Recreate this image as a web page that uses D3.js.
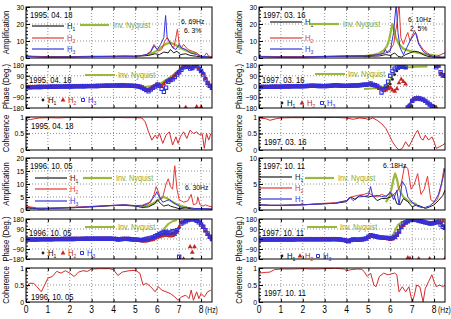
<!DOCTYPE html>
<html>
<head>
<meta charset="utf-8">
<script src="https://cdn.jsdelivr.net/npm/d3@7"></script>
<style>
  body { margin: 0; background: #fff; }
  svg { display: block; }
  text { font-family: "Liberation Sans", Arial, sans-serif; }
</style>
</head>
<body>
<div id="chart"></div>
<script>

// ---------- data (frequency in Hz, value) ----------

// amplification 1995.04.18
var a95H1 = [[0,1.2],[0.3,1],[1,0.8],[2,0.8],[3,1],[4,1],[4.5,1.2],[5,1],[5.3,1.2],[5.6,1.5],[5.9,2.5],[6.1,2],[6.3,3.5],[6.5,3],[6.6,5],[6.75,3],[6.9,4],[7.05,2],[7.3,2.5],[7.5,1.5],[7.8,1],[8.1,0.5],[8.3,0.8],[8.5,0.5]];
var a95H2 = [[0,1],[0.5,0.8],[1,0.6],[2,0.6],[3,0.8],[4,0.9],[5,1],[5.3,1.5],[5.5,2],[5.7,4],[5.85,8],[5.95,6],[6.05,4],[6.2,5],[6.35,10],[6.45,12],[6.6,8],[6.75,6],[6.85,12],[6.92,17],[7.0,8],[7.1,6],[7.2,8],[7.4,5],[7.6,4],[7.8,3],[8.0,1],[8.15,1],[8.25,3],[8.35,1],[8.5,0.8]];
var a95H3 = [[0,1],[0.5,0.6],[1,0.5],[2,0.6],[3,0.8],[4,1],[5,1],[5.3,1.5],[5.5,2],[5.7,3.5],[5.85,7],[6.0,5],[6.15,8],[6.3,12],[6.38,25],[6.45,12],[6.55,10],[6.7,6],[6.85,5],[7.0,8],[7.1,6],[7.3,5],[7.5,3],[7.8,2],[8.0,1],[8.3,0.5],[8.5,0.3]];
var a95Inv = [[5.5,1.8],[5.8,3],[6.0,4.5],[6.2,6.5],[6.4,8.3],[6.6,9],[6.8,8],[7.0,6.3],[7.2,5],[7.4,4],[7.6,3.2],[7.8,2.6]];

// amplification 1996.10.05
var a96H1 = [[0,0.8],[0.3,0.6],[0.8,0.4],[1,0.6],[2,0.8],[3,1.2],[4,1.7],[4.5,1.8],[5,1.5],[5.3,1],[5.6,1.2],[5.9,2.5],[6.0,4],[6.15,2.5],[6.3,1.5],[6.5,2],[6.6,1.5],[6.8,1],[7.0,0.5],[7.3,0.8],[7.6,0.4],[8.0,0.5],[8.5,0.3]];
var a96H2 = [[0,1.5],[0.2,1.2],[0.5,0.8],[1,0.8],[2,1],[3,1.4],[4,1.8],[4.5,2],[5,1.7],[5.3,1.8],[5.5,2.5],[5.7,3],[5.85,6],[5.95,9],[6.05,7],[6.15,4],[6.25,5],[6.4,10],[6.5,12],[6.6,9],[6.7,8],[6.8,17],[6.9,8],[7.0,4],[7.2,3],[7.4,3.5],[7.55,6],[7.65,2],[7.8,2.5],[7.85,5],[7.95,2],[8.1,1.5],[8.2,2],[8.35,1.5],[8.5,1.2]];
var a96H3 = [[0,1],[0.3,0.8],[0.6,0.4],[1,0.6],[2,0.9],[3,1.3],[4,1.8],[4.5,2],[5,1.6],[5.3,1.5],[5.6,2.5],[5.85,5],[5.98,7],[6.1,5],[6.25,3],[6.4,3.5],[6.55,4],[6.7,3],[6.9,2],[7.1,1],[7.4,1],[7.7,0.6],[8.0,0.5],[8.5,0.4]];
var a96Inv = [[5.3,1],[5.6,1.8],[5.8,2.5],[6.0,3.5],[6.15,4.5],[6.3,5],[6.45,4.5],[6.6,3.6],[6.8,2.6],[7.0,1.8],[7.2,1.3],[7.35,1]];

// amplification 1997.03.16
var a97aH1 = [[0,0.8],[1,0.6],[2,0.6],[3,0.8],[4,1],[5,1],[5.5,1.2],[5.8,2],[6.0,1.5],[6.2,3],[6.35,1],[6.5,0.5],[6.7,2],[6.9,3],[7.1,4],[7.3,3.5],[7.5,2],[7.7,1],[8.0,0.5],[8.3,0.4],[8.5,0.5]];
var a97aH2 = [[0,1],[1,0.8],[2,0.8],[3,1],[4,1.3],[5,1.5],[5.5,2],[5.8,3],[6.0,5],[6.15,8],[6.3,20],[6.4,32],[6.48,12],[6.6,8],[6.7,12],[6.8,15],[6.9,10],[7.0,13],[7.1,16],[7.2,14],[7.3,9],[7.5,5],[7.7,3],[7.9,1],[8.1,0.8],[8.3,2],[8.5,3]];
var a97aH3 = [[0,0.8],[1,0.6],[2,0.6],[3,0.9],[4,1.1],[5,1.3],[5.5,2],[5.7,3],[5.78,5],[5.85,3],[6.0,4],[6.15,15],[6.27,32],[6.35,15],[6.45,6],[6.6,2],[6.75,6],[6.9,10],[7.05,13],[7.15,15],[7.3,8],[7.5,4],[7.7,2],[8.0,0.7],[8.3,0.5],[8.5,0.5]];
var a97aInv = [[4.8,1],[5.2,1.8],[5.5,2.8],[5.7,4.5],[5.85,7],[5.95,11],[6.05,17],[6.1,20],[6.15,18],[6.25,12],[6.4,8],[6.6,5.5],[6.8,4.5],[7.0,3.8],[7.3,3],[7.6,2.3],[8.0,1.5],[8.3,1]];

// amplification 1997.10.11
var a97bH1 = [[0,1],[0.5,0.9],[1,0.9],[2,1],[3,1.2],[3.5,1.3],[4,1.6],[4.2,2.5],[4.4,2],[4.6,2.8],[4.8,2.6],[5.0,2.5],[5.2,2.7],[5.4,1.8],[5.6,2.2],[5.8,2.2],[6.0,2.5],[6.15,3],[6.3,1.2],[6.45,1],[6.6,2.2],[6.8,1.6],[7.0,0.6],[7.2,1],[7.4,0.7],[7.6,0.3],[7.8,0.6],[8.0,1],[8.2,1.8],[8.4,2.8],[8.5,3.8]];
var a97bH2 = [[0,1],[0.5,0.9],[1,0.9],[2,1],[3,1.3],[3.5,1.4],[4,1.8],[4.2,2.5],[4.5,2.8],[4.8,3],[5.0,3.3],[5.2,2.8],[5.4,2.5],[5.6,3],[5.8,2.7],[6.0,3.2],[6.15,3],[6.3,3.5],[6.5,5],[6.65,8.5],[6.8,8],[6.95,4],[7.1,5],[7.25,7],[7.4,3],[7.55,4],[7.7,6.5],[7.85,2],[8.0,1.5],[8.15,2],[8.3,4],[8.45,8],[8.5,7.5]];
var a97bH3 = [[0,1],[0.5,0.9],[1,0.9],[2,1],[3,1.2],[3.5,1.3],[3.8,1.6],[4.0,1.8],[4.15,2.5],[4.3,1.8],[4.5,2.5],[4.8,2.6],[5.0,2.8],[5.1,4.5],[5.2,2.6],[5.4,2.8],[5.6,2.6],[5.8,2.5],[6.0,3.5],[6.15,2],[6.3,3.8],[6.4,1],[6.55,5.5],[6.7,4.5],[6.8,2.5],[7.0,1.5],[7.2,0.8],[7.4,0.5],[7.6,0.5],[7.8,0.8],[8.0,1.5],[8.2,3],[8.4,6],[8.5,8]];
var a97bInv = [[5.8,1.5],[5.95,2.5],[6.05,4],[6.15,6],[6.22,7],[6.3,6],[6.4,4],[6.6,2.5],[6.8,1.8],[7.0,1.4],[7.2,1.1]];

// phase, one value every 0.1 Hz
var phFreq = [0,0.1,0.2,0.3,0.4,0.5,0.6,0.7,0.8,0.9,
  1,1.1,1.2,1.3,1.4,1.5,1.6,1.7,1.8,1.9,
  2,2.1,2.2,2.3,2.4,2.5,2.6,2.7,2.8,2.9,
  3,3.1,3.2,3.3,3.4,3.5,3.6,3.7,3.8,3.9,
  4,4.1,4.2,4.3,4.4,4.5,4.6,4.7,4.8,4.9,
  5,5.1,5.2,5.3,5.4,5.5,5.6,5.7,5.8,5.9,
  6,6.1,6.2,6.3,6.4,6.5,6.6,6.7,6.8,6.9,
  7,7.1,7.2,7.3,7.4,7.5,7.6,7.7,7.8,7.9,
  8,8.1,8.2,8.3,8.4,8.5];

var p95H1 = [-5,-5,-5,-5,-4,-4,-4,-3,-3,-3, -2,-2,-2,-1,-1,-1,0,0,0,1, 1,1,1,2,2,2,2,3,3,3, 4,4,4,5,5,5,6,6,7,7, 7,8,8,8,8,8,7,7,6,5,
  3,1,-4,-10,-22,-30,-35,-20,-5,5, 18,10,5,25,45,50,60,70,90,110, 125,145,165,175,170,155,160,170,178,150, 130,105,65,30,8,-8];
var p95H2 = [-4,-5,-5,-5,-4,-4,-3,-3,-3,-2, -2,-2,-1,-1,-1,0,0,0,1,1, 1,1,1,2,2,2,3,3,3,4, 4,4,4,5,5,6,6,7,7,7, 8,8,8,9,9,8,8,7,6,5,
  3,0,-5,-12,-25,-35,-30,-20,-5,5, 20,15,0,20,40,50,60,70,90,110, 130,150,170,-175,175,160,165,175,-170,155, -172,110,70,30,10,-5];
var p95H3 = [-5,-6,-6,-5,-5,-4,-4,-4,-3,-3, -3,-2,-2,-2,-2,-1,-1,-1,0,0, 0,0,1,1,1,2,2,2,3,3, 3,3,4,4,5,5,6,6,6,7, 7,7,8,8,8,8,7,7,6,5,
  4,2,-2,-8,-20,-30,-40,-25,-10,0, 15,5,-20,-45,-10,40,55,60,80,100, 120,140,160,170,165,150,155,170,175,150, 130,100,60,30,5,-10];
var p95Inv = [[5.4,-5],[5.8,5],[6.1,20],[6.4,55],[6.69,90],[6.9,125],[7.2,155],[7.5,165],[7.8,170]];

var p96H1 = [-4,-4,-5,-5,-5,-4,-4,-3,-3,-3, -2,-2,-2,-2,-1,-1,-1,-1,0,0, 0,0,0,0,1,1,1,1,1,2, 2,2,2,2,3,3,2,2,2,1, 1,0,-5,-4,-1,0,0,-1,-2,-5,
  -6,-8,-12,-15,-12,-8,-5,0,5,15, 25,35,40,45,50,45,45,50,55,75, 100,145,155,165,175,178,-178,175,168,155, 135,110,75,45,20,2];
var p96H2 = [-4,-5,-5,-5,-5,-4,-4,-4,-3,-3, -3,-3,-2,-2,-2,-2,-1,-1,-1,-1, -1,0,0,0,0,1,1,1,1,1, 1,2,2,2,2,2,2,1,1,1, 0,-1,-6,-4,-1,0,0,-1,-3,-6,
  -8,-10,-15,-20,-20,-18,-15,-10,-5,5, 15,20,25,30,35,30,25,30,40,60, 110,150,-180,170,180,-70,-120,-70,170,160, 140,110,70,40,20,5];
var p96H3 = [-3,-4,-5,-5,-4,-4,-3,-3,-3,-2, -2,-2,-2,-1,-1,-1,-1,0,0,0, 0,0,0,1,1,1,1,2,2,2, 2,2,2,3,3,3,3,2,2,2, 1,0,-5,-3,0,1,1,0,-2,-4,
  -5,-6,-8,-10,-5,0,5,10,15,25, 35,45,55,60,65,55,60,70,60,80, -160,140,150,160,170,175,180,175,165,150, 130,110,80,50,20,0];
var p96Inv = [[5.3,-10],[5.6,0],[5.9,20],[6.1,45],[6.3,90],[6.5,135],[6.7,160],[6.9,170]];

var p97aH1 = [-4,-4,-4,-3,-3,-3,-3,-2,-2,-2, -1,-1,-1,0,0,0,1,1,1,2, 2,2,3,4,5,5,5,4,4,3, 3,3,4,5,7,9,8,7,6,5, 5,5,6,7,8,8,9,11,13,14,
  15,20,12,6,-2,-10,-15,-15,-10,0, 20,60,100,130,150,160,160,155,-178,-165, -125,-105,-100,-100,-105,-110,-120,-135,-150,-165, -175,165,175,115,90,88];
var p97aH2 = [-5,-5,-4,-4,-4,-3,-3,-3,-2,-2, -2,-1,-1,-1,0,0,0,1,1,1, 2,2,3,4,5,5,4,4,3,3, 3,3,4,5,7,9,8,6,5,5, 4,5,6,7,7,8,9,11,13,14,
  15,20,12,5,-5,-15,-20,-25,-30,-20, -10,-30,-40,-20,30,60,40,20,-170,-150, -115,-100,-95,-95,-100,-110,-125,-140,-150,-160, -170,-175,170,100,85,85];
var p97aH3 = [-4,-4,-3,-3,-3,-3,-2,-2,-2,-1, -1,-1,0,0,0,1,1,1,2,2, 2,3,4,5,6,6,5,4,4,3, 3,4,5,6,8,10,9,7,6,5, 5,6,7,8,8,9,10,12,14,15,
  18,25,15,10,5,-10,-50,-30,0,40, 90,130,150,160,165,170,165,160,-175,-160, -120,-105,-100,-100,-105,-110,-120,-135,-150,-165, -175,160,175,120,95,90];
var p97aInv = [[4.8,-20],[5.3,-15],[5.6,-10],[5.8,5],[5.95,30],[6.1,90],[6.25,140],[6.4,155],[6.7,160],[7.2,165],[7.7,168]];

var p97bH1 = [-6,-6,-6,-5,-5,-5,-4,-4,-4,-4, -4,-4,-4,-4,-4,-4,-3,-3,-3,-3, -3,-3,-3,-3,-3,-3,-3,-3,-2,-2, -2,-2,-2,-2,-2,-2,-3,-5,-8,-10, -14,-19,-10,-5,-5,-8,-5,-5,-1,4,
  18,32,28,22,18,12,10,8,6,5, 0,5,15,35,65,105,130,145,155,165, 170,172,168,163,158,152,148,143,140,140, 142,148,152,140,120,110];
var p97bH2 = [-7,-6,-6,-6,-5,-5,-5,-5,-4,-4, -4,-4,-4,-4,-4,-4,-4,-4,-3,-3, -3,-3,-3,-3,-3,-3,-3,-3,-2,-2, -2,-2,-2,-2,-2,-3,-4,-6,-8,-10, -14,-18,-10,-6,-6,-8,-6,-5,-2,3,
  15,30,25,20,15,10,8,5,3,0, -5,0,10,30,60,100,120,140,-170,-175, 175,170,165,-178,160,150,145,140,-178,140, 140,145,150,155,160,-178];
var p97bH3 = [-6,-6,-5,-5,-5,-4,-4,-4,-4,-4, -4,-4,-4,-4,-4,-4,-4,-3,-3,-3, -3,-3,-3,-3,-3,-3,-3,-3,-3,-2, -2,-2,-2,-2,-1,-2,-3,-5,-8,-10, -15,-20,-10,-5,-5,-8,-5,-5,0,5,
  20,35,30,25,20,15,15,12,10,10, 5,10,20,40,70,110,140,150,160,170, 175,178,170,165,160,155,150,145,140,140, 145,150,155,130,110,100];
var p97bInv = [[5.9,0],[6.05,15],[6.15,45],[6.25,90],[6.35,125],[6.5,150],[6.7,165]];

// coherence
var c95 = [[0,0.95],[0.2,0.92],[0.4,0.95],[0.6,0.97],[1,0.98],[1.5,0.97],[2,0.99],[2.5,0.98],[3,0.99],[3.5,0.98],[4,0.99],[4.5,0.98],[5,0.98],[5.3,0.97],[5.45,0.85],[5.6,0.55],[5.75,0.3],[5.9,0.45],[6.0,0.35],[6.1,0.5],[6.25,0.2],[6.4,0.45],[6.55,0.55],[6.7,0.15],[6.85,0.4],[6.95,0.2],[7.05,0.4],[7.2,0.55],[7.35,0.35],[7.5,0.6],[7.65,0.5],[7.8,0.55],[7.95,0.45],[8.05,0.5],[8.15,0.05],[8.25,0.5],[8.35,0.3],[8.45,0.5]];
var c96 = [[0,0.4],[0.15,0.55],[0.35,0.55],[0.5,0.45],[0.7,0.3],[0.85,0.5],[1.0,0.7],[1.2,0.75],[1.4,0.9],[1.6,0.85],[1.8,0.92],[2.0,0.85],[2.2,0.75],[2.4,0.88],[2.6,0.92],[2.8,0.9],[3.0,0.97],[3.4,0.98],[3.8,0.98],[4.0,0.95],[4.2,0.78],[4.4,0.88],[4.7,0.92],[5.0,0.93],[5.2,0.85],[5.35,0.5],[5.5,0.55],[5.7,0.45],[5.9,0.3],[6.05,0.45],[6.2,0.35],[6.4,0.3],[6.6,0.25],[6.8,0.15],[6.95,0.05],[7.1,0.15],[7.3,0.2],[7.45,0.1],[7.55,0.35],[7.65,0.05],[7.8,0.3],[7.9,0.1],[8.0,0.25],[8.15,0.15],[8.3,0.3],[8.45,0.35]];
var c97a = [[0,0.97],[0.3,0.95],[0.5,0.9],[0.8,0.95],[1,0.97],[1.5,0.98],[2,0.98],[2.5,0.99],[3,0.98],[3.5,0.99],[4,0.97],[4.3,0.93],[4.6,0.97],[4.9,0.95],[5.0,0.92],[5.2,0.97],[5.4,0.9],[5.6,0.8],[5.8,0.65],[5.95,0.45],[6.1,0.25],[6.25,0.1],[6.4,0.0],[6.55,0.05],[6.7,0.25],[6.85,0.1],[7.0,0.3],[7.15,0.5],[7.25,0.6],[7.4,0.35],[7.5,0.3],[7.6,0.45],[7.75,0.3],[7.9,0.4],[8.0,0.25],[8.1,0.05],[8.25,0.1],[8.4,0.15],[8.5,0.2]];
var c97b = [[0,0.85],[0.3,0.87],[0.5,0.88],[0.7,0.95],[1,0.97],[1.5,0.97],[2,0.98],[2.5,0.97],[3,0.98],[3.5,0.99],[3.9,0.97],[4.0,0.92],[4.2,0.95],[4.5,0.97],[4.7,0.96],[4.8,0.9],[4.95,0.75],[5.1,0.85],[5.25,0.5],[5.35,0.45],[5.5,0.75],[5.7,0.85],[5.9,0.8],[6.0,0.82],[6.2,0.85],[6.3,0.8],[6.4,0.3],[6.55,0.45],[6.7,0.3],[6.85,0.45],[7.0,0.0],[7.1,0.2],[7.2,0.5],[7.35,0.45],[7.5,0.0],[7.6,0.4],[7.75,0.6],[7.9,0.8],[8.0,0.6],[8.1,0.45],[8.25,0.5],[8.4,0.45],[8.5,0.5]];

var hzTicks = [0,1,2,3,4,5,6,7,8];

// ---------- layout ----------

var W = 451, H = 319;
var colX = [26, 259], plotW = 186;
var rows = { amp1: [7, 58], ph1: [65, 108], coh1: [117, 150], amp2: [158, 210], ph2: [219, 259], coh2: [268, 302] };

var cH1 = '#1a1a1a', cH2 = '#e23a36', cH3 = '#3434d8', cInv = '#9ab83a', cInvText = '#8aa836';
var pH1 = '#222', pH2 = '#c42424', pH3 = '#3030e0';

var svg = d3.select('#chart').append('svg').attr('width', W).attr('height', H);

function label(g, x, y, txt, size, fill, anchor, sx) {
	return g.append('text')
		.attr('transform', 'translate(' + x + ',' + y + ') scale(' + (sx || 0.85) + ',1)')
		.attr('text-anchor', anchor || 'start')
		.style('font-size', size + 'px')
		.style('fill', fill || '#000')
		.text(txt);
};

function hLabel(g, x, y, n, fill) {
	var t = label(g, x, y, 'H', 9, fill);
	t.append('tspan').attr('dy', 2).style('font-size', '6px').text(n);
};

function makePanel(col, row, yDom, major, minorStep, grid, fmt, title) {
	var x0 = colX[col], top = rows[row][0], bot = rows[row][1];
	var x = d3.scaleLinear().domain([0, 8.5]).range([x0, x0 + plotW]);
	var y = d3.scaleLinear().domain(yDom).range([bot, top]);
	var cid = 'clip' + col + row;

	svg.append('clipPath').attr('id', cid).append('rect')
		.attr('x', x0).attr('y', top).attr('width', plotW).attr('height', bot - top);

	var gridG = svg.append('g');
	var plot = svg.append('g').attr('clip-path', 'url(#' + cid + ')');
	var axisG = svg.append('g');
	var front = svg.append('g');

	gridG.selectAll('line.vg').data(hzTicks.slice(1)).join('line')
		.attr('x1', function(d) { return x(d); }).attr('x2', function(d) { return x(d); })
		.attr('y1', top).attr('y2', bot)
		.style('stroke', '#777').style('stroke-width', 0.8).style('stroke-dasharray', '1,2');
	gridG.selectAll('line.hg').data(grid).join('line')
		.attr('x1', x0).attr('x2', x0 + plotW)
		.attr('y1', function(d) { return y(d); }).attr('y2', function(d) { return y(d); })
		.style('stroke', '#777').style('stroke-width', 0.8).style('stroke-dasharray', '1,2');

	// left axis, major and minor ticks pointing inward
	var minor = d3.range(yDom[0], yDom[1] + minorStep / 2, minorStep);
	axisG.append('g').attr('transform', 'translate(' + x0 + ',0)')
		.call(d3.axisLeft(y).tickValues(minor).tickSize(-2).tickSizeOuter(0).tickFormat(''))
		.call(function(a) { a.select('.domain').remove(); });
	var ya = axisG.append('g').attr('transform', 'translate(' + x0 + ',0)')
		.call(d3.axisLeft(y).tickValues(major).tickSize(-4).tickSizeOuter(0).tickPadding(2).tickFormat(fmt))
		.call(function(a) { a.select('.domain').remove(); });
	ya.selectAll('text').style('font-size', '7.5px').style('font-family', '"Liberation Sans", Arial, sans-serif')
		.attr('transform', 'scale(0.92,1)');
	ya.selectAll('line').style('stroke', '#000');

	// top / bottom Hz ticks
	axisG.append('g').attr('transform', 'translate(0,' + bot + ')')
		.call(d3.axisBottom(x).tickValues(hzTicks).tickSize(-3).tickSizeOuter(0).tickFormat(''))
		.call(function(a) { a.select('.domain').remove(); });
	axisG.append('g').attr('transform', 'translate(0,' + top + ')')
		.call(d3.axisTop(x).tickValues(hzTicks).tickSize(-3).tickSizeOuter(0).tickFormat(''))
		.call(function(a) { a.select('.domain').remove(); });

	axisG.append('rect').attr('x', x0).attr('y', top).attr('width', plotW).attr('height', bot - top)
		.style('fill', 'none').style('stroke', '#000').style('stroke-width', 1);

	// rotated axis title
	svg.append('text')
		.attr('transform', 'translate(' + (x0 - 17) + ',' + ((top + bot) / 2) + ') rotate(-90) scale(0.85,1)')
		.attr('text-anchor', 'middle')
		.style('font-size', '9px')
		.text(title);

	return { x: x, y: y, plot: plot, front: front, x0: x0, top: top, bot: bot };
};

function drawLine(p, data, color, width) {
	var line = d3.line().x(function(d) { return p.x(d[0]); }).y(function(d) { return p.y(d[1]); });
	p.plot.append('path').datum(data).attr('d', line)
		.style('fill', 'none').style('stroke', color).style('stroke-width', width)
		.style('stroke-linejoin', 'round');
};

function drawMarks(p, vals, kind) {
	var pts = vals.map(function(v, i) { return [phFreq[i], v]; });
	var sel = p.plot.append('g').selectAll('path').data(pts).join('path')
		.attr('transform', function(d) { return 'translate(' + p.x(d[0]) + ',' + p.y(d[1]) + ')'; });
	if (kind == 1) {
		sel.attr('d', d3.symbol(d3.symbolCircle, 6)).style('fill', pH1);
	} else if (kind == 2) {
		sel.attr('d', d3.symbol(d3.symbolTriangle, 10)).style('fill', pH2);
	} else {
		sel.attr('d', d3.symbol(d3.symbolSquare, 11)).style('fill', 'none').style('stroke', pH3).style('stroke-width', 1.1);
	}
};

function ampPanel(col, row, ymax, major, minorStep, grid, s, leg, date, notes) {
	var p = makePanel(col, row, [0, ymax], major, minorStep, grid, function(d) { return d; }, 'Amplification');
	drawLine(p, s.inv, cInv, 2.2);
	drawLine(p, s.h1, cH1, 1);
	drawLine(p, s.h2, cH2, 1);
	drawLine(p, s.h3, cH3, 1);

	var f = p.front, lx = p.x0 + leg.dx;
	[[cH1, '1'], [cH2, '2'], [cH3, '3']].forEach(function(e, i) {
		f.append('line').attr('x1', lx).attr('x2', lx + 32).attr('y1', leg.ys[i]).attr('y2', leg.ys[i])
			.style('stroke', e[0]).style('stroke-width', 1.2);
		hLabel(f, lx + 35, leg.ys[i] + 3, e[1], e[0]);
	});
	f.append('line').attr('x1', p.x0 + leg.invDx).attr('x2', p.x0 + leg.invDx + 29).attr('y1', leg.invY).attr('y2', leg.invY)
		.style('stroke', cInv).style('stroke-width', 2.2);
	label(f, p.x0 + leg.invDx + 33, leg.invY + 3, 'Inv. Nyquist', 8.5, cInvText);
	label(f, p.x0 + 4, p.top + 11, date, 9);
	notes.forEach(function(n) { label(f, n[0], n[1], n[2], 8); });
	return p;
};

function phasePanel(col, row, s, leg, date) {
	var p = makePanel(col, row, [-180, 180], [-180, -90, 0, 90, 180], 30, [-90, 0, 90], null, 'Phase (Deg.)');
	drawLine(p, s.inv, cInv, 2);
	drawMarks(p, s.h1, 1);
	drawMarks(p, s.h2, 2);
	drawMarks(p, s.h3, 3);

	var f = p.front;
	f.append('line').attr('x1', p.x0 + leg.invDx).attr('x2', p.x0 + leg.invDx + 30).attr('y1', leg.invY).attr('y2', leg.invY)
		.style('stroke', cInv).style('stroke-width', 2);
	label(f, p.x0 + leg.invDx + 33, leg.invY + 3, 'Inv. Nyquist', 8.5, cInvText);

	var mk = [[d3.symbolCircle, 6, pH1, 'none'], [d3.symbolTriangle, 10, pH2, 'none'], [d3.symbolSquare, 9, 'none', pH3]];
	mk.forEach(function(m, i) {
		var mx = p.x0 + leg.mDx[i];
		f.append('path').attr('d', d3.symbol(m[0], m[1]))
			.attr('transform', 'translate(' + mx + ',' + leg.mY + ')')
			.style('fill', m[2]).style('stroke', m[3]).style('stroke-width', 1);
		hLabel(f, mx + 5, leg.mY + 3, String(i + 1), i == 0 ? '#000' : (i == 1 ? pH2 : pH3));
	});
	label(f, p.x0 + 3, date[1], date[0], 9);
	return p;
};

function cohPanel(col, row, data, dateY, date, bottom) {
	var p = makePanel(col, row, [0, 1], [0, 0.5, 1], 0.1, [0.5], function(d) { return d; }, 'Coherence');
	drawLine(p, data, '#d62a2a', 1);
	label(p.front, p.x0 + 5, dateY, date, 9);
	if (bottom) {
		hzTicks.forEach(function(d) {
			label(svg, p.x(d), p.bot + 11, String(d), 10, '#000', 'middle', 0.85);
		});
		label(svg, p.x(8) + 4, p.bot + 11, '(Hz)', 9, '#000', 'start', 0.75);
	}
	return p;
};

// ---------- panels ----------

ampPanel(0, 'amp1', 30, [0, 10, 20, 30], 2, [10, 20],
	{ h1: a95H1, h2: a95H2, h3: a95H3, inv: a95Inv },
	{ dx: 6, ys: [26, 38, 49], invDx: 54, invY: 25 }, '1995. 04. 18',
	[[181, 24, '6. 69Hz'], [184, 33, '6. 3%']]);
phasePanel(0, 'ph1', { h1: p95H1, h2: p95H2, h3: p95H3, inv: p95Inv },
	{ invDx: 59, invY: 75, mDx: [17, 37, 57], mY: 100 }, ['1995. 04. 18', 83]);
cohPanel(0, 'coh1', c95, 129, '1995. 04. 18', false);

ampPanel(0, 'amp2', 20, [0, 5, 10, 15, 20], 1, [5, 10, 15],
	{ h1: a96H1, h2: a96H2, h3: a96H3, inv: a96Inv },
	{ dx: 9, ys: [178, 189, 201], invDx: 57, invY: 178 }, '1996. 10. 05',
	[[185, 190, '6. 30Hz']]);
phasePanel(0, 'ph2', { h1: p96H1, h2: p96H2, h3: p96H3, inv: p96Inv },
	{ invDx: 59, invY: 227, mDx: [17, 37, 56], mY: 253 }, ['1996. 10. 05', 236]);
cohPanel(0, 'coh2', c96, 300, '1996. 10. 05', true);

ampPanel(1, 'amp1', 30, [0, 10, 20, 30], 2, [10, 20],
	{ h1: a97aH1, h2: a97aH2, h3: a97aH3, inv: a97aInv },
	{ dx: 11, ys: [22, 38, 49], invDx: 51, invY: 24 }, '1997. 03. 16',
	[[408, 22, '6. 10Hz'], [410, 31, '2. 5%']]);
phasePanel(1, 'ph1', { h1: p97aH1, h2: p97aH2, h3: p97aH3, inv: p97aInv },
	{ invDx: 56, invY: 74, mDx: [23, 43, 63], mY: 103 }, ['1997. 03. 16', 83]);
cohPanel(1, 'coh1', c97a, 145, '1997. 03. 16', false);

ampPanel(1, 'amp2', 10, [0, 5, 10], 0.5, [5],
	{ h1: a97bH1, h2: a97bH2, h3: a97bH3, inv: a97bInv },
	{ dx: 1, ys: [177, 188, 199], invDx: 46, invY: 178 }, '1997. 10. 11',
	[[383, 168, '6. 18Hz']]);
phasePanel(1, 'ph2', { h1: p97bH1, h2: p97bH2, h3: p97bH3, inv: p97bInv },
	{ invDx: 48, invY: 227, mDx: [23, 41, 59], mY: 256 }, ['1997. 10. 11', 236]);
cohPanel(1, 'coh2', c97b, 296, '1997. 10. 11', true);

</script>
</body>
</html>
